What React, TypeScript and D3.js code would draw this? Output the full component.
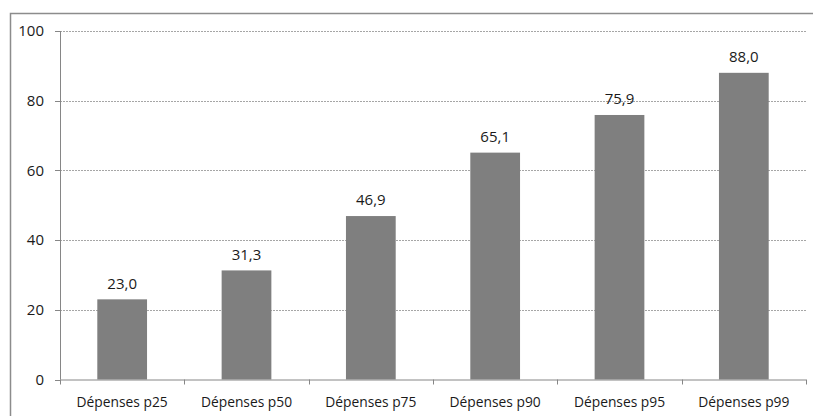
import React from "react";
import * as d3 from "d3";

const categories = ["Dépenses p25", "Dépenses p50", "Dépenses p75", "Dépenses p90", "Dépenses p95", "Dépenses p99"];
const values = [23.0, 31.3, 46.9, 65.1, 75.9, 88.0];
const yTicks = [0, 20, 40, 60, 80, 100];

const W = 813;
const H = 416;
const left = 60;
const right = 806;
const top = 31;
const bottom = 379.5;
const font = "'Open Sans', 'Noto Sans', sans-serif";

export default function App() {
  const x = d3.scaleBand<string>().domain(categories).range([left, right]).paddingInner(0.6).paddingOuter(0.3);
  const y = d3.scaleLinear().domain([0, 100]).range([bottom, top]);
  const step = (right - left) / categories.length;
  const fmt = (v: number) => v.toFixed(1).replace(".", ",");

  return (
    <svg width={W} height={H} style={{ position: "absolute", left: 0, top: 0 }}>
      <rect x={0} y={0} width={W} height={H} fill="#fff" />
      <rect x={10.5} y={13.5} width={830} height={430} fill="none" stroke="#8c8c8c" strokeWidth={1.5} />
      {yTicks.filter((t) => t > 0).map((t) => (
        <line key={"g" + t} x1={left} x2={right} y1={Math.round(y(t)) + 0.5} y2={Math.round(y(t)) + 0.5}
          stroke="#a6a6a6" strokeWidth={1} strokeDasharray="2,1" />
      ))}
      {categories.map((c, i) => (
        <rect key={c} x={x(c)} y={y(values[i])} width={x.bandwidth()} height={bottom - y(values[i])} fill="#7f7f7f" />
      ))}
      <line x1={left + 0.5} x2={left + 0.5} y1={top} y2={bottom} stroke="#868686" />
      <line x1={left} x2={right} y1={bottom + 0.5} y2={bottom + 0.5} stroke="#868686" />
      {yTicks.map((t) => (
        <g key={"t" + t}>
          <line x1={left - 5} x2={left} y1={Math.round(y(t)) + 0.5} y2={Math.round(y(t)) + 0.5} stroke="#868686" />
          <text x={44} y={y(t)} dy="0.35em" textAnchor="end" fontFamily={font} fontSize={15} fill="#1a1a1a">{t}</text>
        </g>
      ))}
      {d3.range(categories.length + 1).map((i) => (
        <line key={"xt" + i} x1={Math.round(left + i * step) + 0.5} x2={Math.round(left + i * step) + 0.5}
          y1={bottom} y2={bottom + 5} stroke="#868686" />
      ))}
      {categories.map((c) => (
        <text key={"l" + c} x={x(c)! + x.bandwidth() / 2} y={402} dy="0.35em" textAnchor="middle"
          fontFamily={font} fontSize={13.8} fill="#1a1a1a">{c}</text>
      ))}
      {categories.map((c, i) => (
        <text key={"v" + c} x={x(c)! + x.bandwidth() / 2} y={y(values[i]) - 16} dy="0.35em" textAnchor="middle"
          fontFamily={font} fontSize={15} fill="#1a1a1a">{fmt(values[i])}</text>
      ))}
    </svg>
  );
}
